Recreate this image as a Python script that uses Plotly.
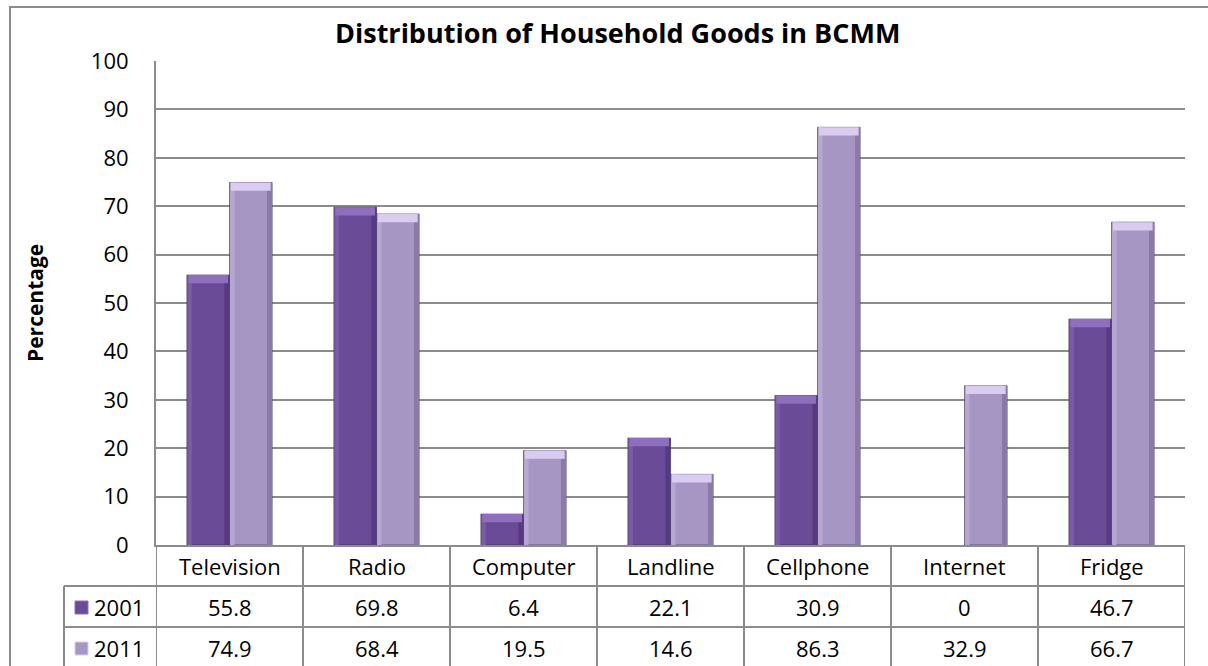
import plotly.graph_objects as go

# Household goods ownership (%) in BCMM
categories = ["Television", "Radio", "Computer", "Landline", "Cellphone", "Internet", "Fridge"]
years = ["2001", "2011"]
values_2001 = [55.8, 69.8, 6.4, 22.1, 30.9, 0, 46.7]
values_2011 = [74.9, 68.4, 19.5, 14.6, 86.3, 32.9, 66.7]
y_ticks = [0, 10, 20, 30, 40, 50, 60, 70, 80, 90, 100]

FONT = "Open Sans"
W, H = 1208, 666
ML, MR, MT, MB = 156, 23, 61, 121
PW, PH = W - ML - MR, H - MT - MB

def px_x(px):
    return (px - ML) / PW

def px_y(py):
    return (H - MB - py) / PH

BAR_W = 0.29
CAP = 1.7  # height of the bevelled top, in axis units

series = [
    (values_2001, -BAR_W, "#6a4b97", "#8d6fbd", "#563b80", "#7a5ba8"),
    (values_2011, 0.0, "#a696c4", "#d9ccef", "#8a7aa8", "#b6a8d2"),
]

x_idx = list(range(len(categories)))
fig = go.Figure()
for vals, off, main, cap, edge, light in series:
    shown = [v if v > 0 else None for v in vals]
    # body of the bar
    fig.add_trace(go.Bar(
        x=x_idx, y=shown, offset=off, width=BAR_W,
        marker=dict(color=main, line=dict(color="rgba(50,35,75,0.55)", width=1)),
        hoverinfo="skip", showlegend=False,
    ))
    # darker right edge
    fig.add_trace(go.Bar(
        x=x_idx, y=shown,
        offset=off + BAR_W - 0.035, width=0.035,
        marker=dict(color=edge, line=dict(width=0)),
        hoverinfo="skip", showlegend=False,
    ))
    # lighter left edge
    fig.add_trace(go.Bar(
        x=x_idx, y=shown,
        offset=off + 0.004, width=0.03,
        marker=dict(color=light, line=dict(width=0)),
        hoverinfo="skip", showlegend=False,
    ))
    # bevelled cap
    caps = [min(CAP, v) if v > 0 else None for v in vals]
    fig.add_trace(go.Bar(
        x=x_idx, y=caps, base=[v - c if c else None for v, c in zip(vals, caps)],
        offset=off + 0.01, width=BAR_W - 0.02,
        marker=dict(color=cap, line=dict(width=0)),
        hoverinfo="skip", showlegend=False,
    ))

GRID = "#8c8c8c"
shapes = []
# outer chart frame
shapes.append(dict(type="rect", xref="paper", yref="paper",
                   x0=px_x(10), x1=px_x(1240), y0=px_y(700), y1=px_y(7),
                   line=dict(color=GRID, width=2), layer="below"))
# data table grid
row_lines = [px_y(586), px_y(627)]
for i in range(len(categories) + 1):
    shapes.append(dict(type="line", xref="x", yref="paper",
                       x0=i - 0.5, x1=i - 0.5, y0=0, y1=px_y(700),
                       line=dict(color=GRID, width=2)))
shapes.append(dict(type="line", xref="paper", yref="paper",
                   x0=px_x(64), x1=px_x(64), y0=row_lines[0], y1=px_y(700),
                   line=dict(color=GRID, width=2)))
for ry in row_lines:
    shapes.append(dict(type="line", xref="paper", yref="paper",
                       x0=px_x(64), x1=1, y0=ry, y1=ry,
                       line=dict(color=GRID, width=2)))

annotations = []
TXT = dict(family=FONT, size=22, color="#000000")
header_y = px_y(566)
row_y = [px_y(607), px_y(648)]
for i, c in enumerate(categories):
    annotations.append(dict(x=i, y=header_y, xref="x", yref="paper", text=c,
                            showarrow=False, font=TXT, xanchor="center", yanchor="middle"))
    for r, vals in enumerate([values_2001, values_2011]):
        annotations.append(dict(x=i, y=row_y[r], xref="x", yref="paper",
                                text=f"{vals[i]:g}", showarrow=False, font=TXT,
                                xanchor="center", yanchor="middle"))

key_colors = [("#6a4b97", "#8d6fbd"), ("#a696c4", "#d9ccef")]
for r, yr in enumerate(years):
    annotations.append(dict(x=px_x(92), y=row_y[r], xref="paper", yref="paper",
                            text=yr, showarrow=False, font=TXT,
                            xanchor="left", yanchor="middle"))
    cy = 607 + 41 * r
    shapes.append(dict(type="rect", xref="paper", yref="paper",
                       x0=px_x(75), x1=px_x(88), y0=px_y(cy + 7), y1=px_y(cy - 6),
                       fillcolor=key_colors[r][0], line=dict(color=key_colors[r][1], width=1)))

annotations.append(dict(x=px_x(617), y=px_y(32), xref="paper", yref="paper",
                        text="<b>Distribution of Household Goods in BCMM</b>",
                        showarrow=False, font=dict(family=FONT, size=27, color="#000000"),
                        xanchor="center", yanchor="middle"))
annotations.append(dict(x=px_x(35), y=0.5, xref="paper", yref="paper",
                        text="<b>Percentage</b>", textangle=-90, showarrow=False,
                        font=dict(family=FONT, size=21, color="#000000"),
                        xanchor="center", yanchor="middle"))

fig.update_layout(
    width=W, height=H,
    margin=dict(l=ML, r=MR, t=MT, b=MB, pad=0),
    plot_bgcolor="white", paper_bgcolor="white",
    barmode="overlay",
    showlegend=False,
    shapes=shapes,
    annotations=annotations,
    xaxis=dict(range=[-0.5, len(categories) - 0.5], showticklabels=False, ticks="",
               showgrid=False, zeroline=False, showline=True, linecolor=GRID, linewidth=2,
               fixedrange=True),
    yaxis=dict(range=[0, 100], tickvals=y_ticks, showgrid=True, gridcolor=GRID, gridwidth=2,
               zeroline=False, showline=True, linecolor=GRID, linewidth=2, ticks="",
               tickfont=dict(family=FONT, size=22, color="#000000"),
               ticklabelstandoff=21, fixedrange=True),
)

fig.write_html("out.html")
